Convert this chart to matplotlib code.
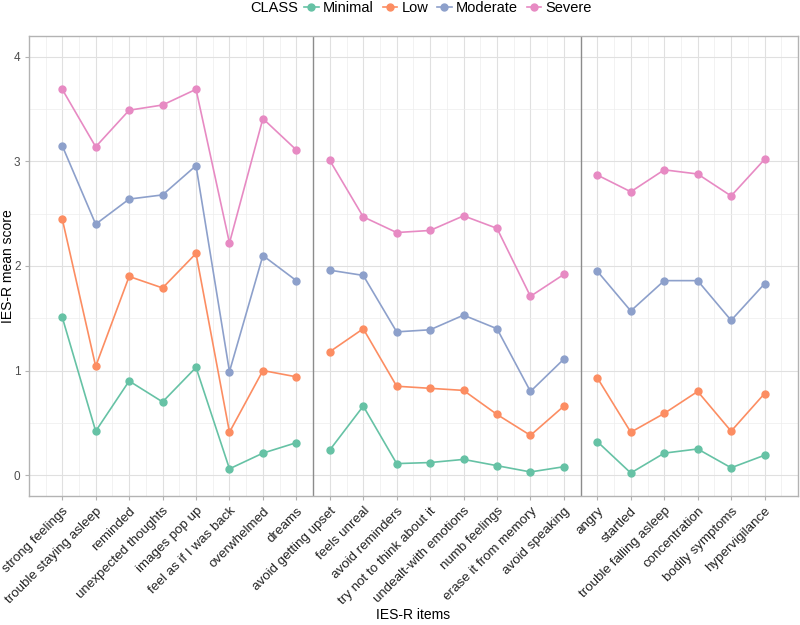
import numpy as np
import matplotlib
matplotlib.use("Agg")
import matplotlib.pyplot as plt
from matplotlib.lines import Line2D

plt.rcParams['font.family'] = ['Liberation Sans', 'DejaVu Sans']

# IES-R items, in plotting order, split into three blocks
items = ["strong feelings", "trouble staying asleep", "reminded", "unexpected thoughts",
         "images pop up", "feel as if I was back", "overwhelmed", "dreams",
         "avoid getting upset", "feels unreal", "avoid reminders", "try not to think about it",
         "undealt-with emotions", "numb feelings", "erase it from memory", "avoid speaking",
         "angry", "startled", "trouble falling asleep", "concentration",
         "bodily symptoms", "hypervigilance"]
block_sizes = [8, 8, 6]

classes = ["Minimal", "Low", "Moderate", "Severe"]
colors = ["#66C2A5", "#FC8D62", "#8DA0CB", "#E78AC3"]

minimal = [1.51, 0.42, 0.90, 0.70, 1.03, 0.06, 0.21, 0.31,
           0.24, 0.66, 0.11, 0.12, 0.15, 0.09, 0.03, 0.08,
           0.32, 0.02, 0.21, 0.25, 0.07, 0.19]
low = [2.45, 1.04, 1.90, 1.79, 2.12, 0.41, 1.00, 0.94,
       1.18, 1.40, 0.85, 0.83, 0.81, 0.58, 0.38, 0.66,
       0.93, 0.41, 0.59, 0.80, 0.42, 0.78]
moderate = [3.15, 2.40, 2.64, 2.68, 2.96, 0.99, 2.10, 1.86,
            1.96, 1.91, 1.37, 1.39, 1.53, 1.40, 0.80, 1.11,
            1.95, 1.57, 1.86, 1.86, 1.48, 1.83]
severe = [3.69, 3.14, 3.49, 3.54, 3.69, 2.22, 3.41, 3.11,
          3.01, 2.47, 2.32, 2.34, 2.48, 2.36, 1.71, 1.92,
          2.87, 2.71, 2.92, 2.88, 2.67, 3.02]
series = [minimal, low, moderate, severe]

x = np.arange(1, len(items) + 1)
bounds = np.cumsum([0] + block_sizes)

fig = plt.figure(figsize=(8, 6.25), dpi=100)
ax = fig.add_axes([0.036, 0.2064, 0.9615, 0.736])

# grid, theme_light style
ax.set_xticks(x)
ax.set_xticks(np.arange(0.5, len(items) + 1, 1.0), minor=True)
ax.set_yticks([0, 1, 2, 3, 4])
ax.set_yticks([0.5, 1.5, 2.5, 3.5], minor=True)
ax.grid(which='major', color='#E0E0E0', linewidth=0.8)
ax.grid(which='minor', color='#EDEDED', linewidth=0.5)
ax.set_axisbelow(True)

# separators between blocks
for b in bounds[1:-1]:
    ax.axvline(b + 0.5, color='#8C8C8C', linewidth=1.0, zorder=1)

for vals, col in zip(series, colors):
    vals = np.array(vals)
    for i0, i1 in zip(bounds[:-1], bounds[1:]):
        ax.plot(x[i0:i1], vals[i0:i1], color=col, linewidth=1.2, marker='o',
                markersize=5, zorder=3)

ax.set_xlim(0, 23)
ax.set_ylim(-0.2, 4.2)

for s in ax.spines.values():
    s.set_color('#B3B3B3')
    s.set_linewidth(1.0)

ax.tick_params(which='major', length=3, color='#B3B3B3', labelcolor='#4D4D4D')
ax.tick_params(which='minor', length=0)
ax.tick_params(axis='y', labelsize=8.5, pad=3)
ax.set_xticklabels(items, rotation=45, ha='right', va='top', rotation_mode='anchor',
                   fontsize=9.6, color='#222222')

ax.set_ylabel("IES-R mean score", fontsize=10, va='center')
ax.yaxis.set_label_coords(-0.027, 0.5)
ax.set_xlabel("IES-R items", fontsize=10, va='center')
ax.xaxis.set_label_coords(0.5, -0.259)

# legend across the top
handles = [Line2D([0], [0], color=c, linewidth=1.2, marker='o', markersize=5) for c in colors]
fig.text(0.3125, 0.987, "CLASS", fontsize=10.5, ha='left', va='center')
fig.legend(handles, classes, loc='center left', bbox_to_anchor=(0.38, 0.987), ncol=4,
           frameon=False, fontsize=10.5, handlelength=1.0, handletextpad=0.3,
           columnspacing=0.6, borderaxespad=0, borderpad=0)

fig.savefig("out.png", dpi=100)
